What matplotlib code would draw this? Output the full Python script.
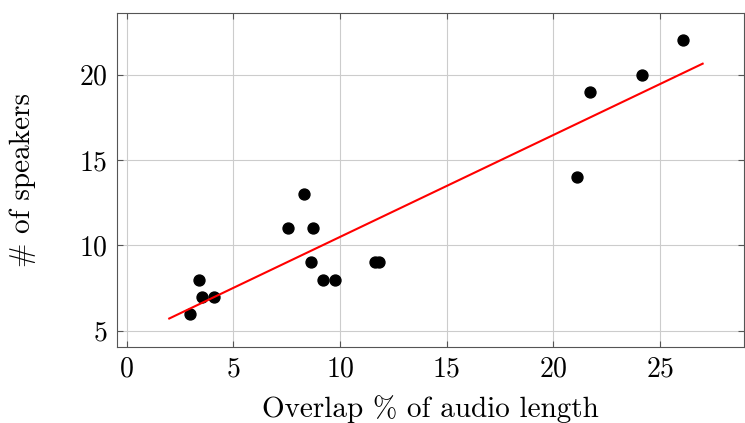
import numpy as np
import matplotlib
matplotlib.use('Agg')
import matplotlib.pyplot as plt

plt.rcParams['font.family'] = 'serif'
plt.rcParams['font.serif'] = ['cmr10']
plt.rcParams['mathtext.fontset'] = 'cm'
plt.rcParams['axes.formatter.use_mathtext'] = True

# data
overlap = [2.97, 3.4, 3.52, 4.12, 7.56, 8.31, 8.74, 8.64, 9.2, 9.77,
           11.64, 11.83, 21.11, 21.72, 24.15, 26.08]
speakers = [6, 8, 7, 7, 11, 13, 11, 9, 8, 8, 9, 9, 14, 19, 20, 22]
fit_x = [2.0, 27.0]
fit_y = [5.72, 20.64]

fig = plt.figure(figsize=(7.45, 4.23), dpi=100)
ax = fig.add_axes([0.157, 0.180, 0.842, 0.789])

ax.grid(True, color='#cccccc', linewidth=0.8)
ax.set_axisbelow(True)
ax.scatter(overlap, speakers, s=62, color='black', zorder=3)
ax.plot(fit_x, fit_y, color='red', linewidth=1.5, zorder=4)

ax.set_xlim(-0.45, 28.95)
ax.set_ylim(4.06, 23.6)
ax.set_xticks([0, 5, 10, 15, 20, 25])
ax.set_yticks([5, 10, 15, 20])
ax.tick_params(direction='in', top=True, right=True, labelsize=20,
               color='#555555', length=4, pad=7)
for s in ax.spines.values():
    s.set_color('#555555')

ax.set_xlabel('Overlap % of audio length', fontsize=21, labelpad=9)
ax.set_ylabel('# of speakers', fontsize=21, labelpad=31)

fig.savefig('out.png', dpi=100)
